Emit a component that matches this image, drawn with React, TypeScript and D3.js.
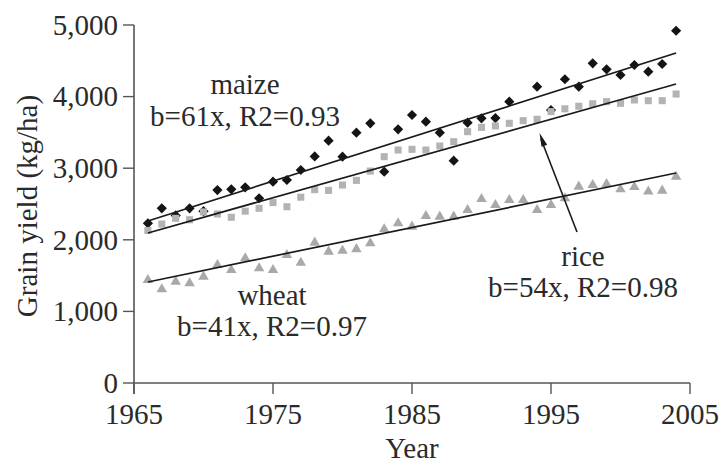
import React from "react";
import * as d3 from "d3";

const years = d3.range(1966, 2005);
const maize: (number | null)[] = [
  2230, 2440, 2340, 2440, 2400, 2695, 2705, 2733, 2580, 2812,
  2835, 2975, 3165, 3384, 3161, 3496, 3627, 2951, 3543, 3743,
  3650, 3496, 3105, 3636, 3697, 3700, 3929, null, 4138, 3813,
  4242, 4138, 4465, 4381, 4302, 4441, 4348, 4455, 4920,
];
const rice: number[] = [
  2130, 2220, 2300, 2280, 2390, 2360, 2314, 2400, 2440, 2520,
  2462, 2595, 2700, 2690, 2765, 2830, 2960, 3161, 3254, 3264,
  3254, 3310, 3370, 3510, 3570, 3590, 3627, 3664, 3683, 3790,
  3830, 3865, 3900, 3929, 3906, 3953, 3943, 3943, 4036,
];
const wheat: number[] = [
  1438, 1309, 1415, 1392, 1485, 1648, 1578, 1742, 1602, 1578,
  1788, 1680, 1960, 1834, 1846, 1870, 1951, 2147, 2230, 2183,
  2332, 2323, 2323, 2416, 2570, 2486, 2556, 2556, 2416, 2486,
  2580, 2742, 2765, 2779, 2705, 2738, 2675, 2687, 2880,
];
// fitted trend values at first and last year
const maizeTrend = [2263, 4609];
const riceTrend = [2095, 4176];
const wheatTrend = [1411, 2933];
const xTicks = [1965, 1975, 1985, 1995, 2005];
const yTicks = [0, 1000, 2000, 3000, 4000, 5000];

const W = 727;
const H = 465;
const FONT = "'Liberation Serif', 'DejaVu Serif', serif";
const TXT = "#2a2a2a";

export default function App() {
  const x = d3.scaleLinear().domain([1965, 2005]).range([134, 690]);
  const y = d3.scaleLinear().domain([0, 5000]).range([383, 25]);
  const fmt = d3.format(",");

  const square = (s: number) => d3.symbol().type(d3.symbolSquare).size(s)()!;
  const tri = d3.symbol().type(d3.symbolTriangle).size(48)()!;
  const diamondPath = square(52);
  const squarePath = square(50);

  const trends = [maizeTrend, riceTrend, wheatTrend];
  const y0 = years[0];
  const y1 = years[years.length - 1];
  const line = d3
    .line<[number, number]>()
    .x((d) => x(d[0]))
    .y((d) => y(d[1]));

  return (
    <svg
      width={W}
      height={H}
      style={{ position: "absolute", left: 0, top: 0, background: "#fff" }}
      fontFamily={FONT}
    >
      {/* axes */}
      <line x1={134} x2={134} y1={y(5000)} y2={394} stroke="#555" strokeWidth={1.6} />
      <line x1={134} x2={690} y1={383} y2={383} stroke="#555" strokeWidth={1.6} />
      {yTicks.map((t) => (
        <g key={t}>
          <line x1={123} x2={134} y1={y(t)} y2={y(t)} stroke="#555" strokeWidth={1.4} />
          <text x={118} y={y(t)} dy="0.34em" textAnchor="end" fontSize={29} fill={TXT}>
            {fmt(t)}
          </text>
        </g>
      ))}
      {xTicks.map((t) => (
        <g key={t}>
          <line x1={x(t)} x2={x(t)} y1={383} y2={394} stroke="#555" strokeWidth={1.4} />
          <text x={x(t)} y={424} textAnchor="middle" fontSize={29} fill={TXT}>
            {t}
          </text>
        </g>
      ))}
      <text x={x(1985)} y={458} textAnchor="middle" fontSize={29} fill={TXT}>
        Year
      </text>
      <text
        transform={`translate(37,${y(2500) + 2}) rotate(-90)`}
        textAnchor="middle"
        fontSize={29}
        fill={TXT}
      >
        Grain yield (kg/ha)
      </text>

      {/* points */}
      {maize.map((v, i) =>
        v == null ? null : (
          <path
            key={"m" + i}
            d={diamondPath}
            transform={`translate(${x(years[i])},${y(v)}) rotate(45)`}
            fill="#141414"
          />
        )
      )}
      {rice.map((v, i) => (
        <path
          key={"r" + i}
          d={squarePath}
          transform={`translate(${x(years[i])},${y(v)})`}
          fill="#b3b3b3"
        />
      ))}
      {wheat.map((v, i) => (
        <path
          key={"w" + i}
          d={tri}
          transform={`translate(${x(years[i])},${y(v)})`}
          fill="#a9a9a9"
        />
      ))}

      {/* regression lines */}
      {trends.map((t, i) => (
        <path
          key={"f" + i}
          d={line([
            [y0, t[0]],
            [y1, t[1]],
          ])!}
          stroke="#1a1a1a"
          strokeWidth={1.7}
          fill="none"
        />
      ))}

      {/* annotations */}
      <g fontSize={29} fill={TXT} textAnchor="middle">
        <text x={245} y={94}>maize</text>
        <text x={245} y={126}>b=61x, R2=0.93</text>
        <text x={272} y={305}>wheat</text>
        <text x={272} y={336}>b=41x, R2=0.97</text>
        <text x={583} y={266}>rice</text>
        <text x={583} y={297}>b=54x, R2=0.98</text>
      </g>
      {/* arrow */}
      <line x1={577} y1={232} x2={541} y2={139} stroke="#1a1a1a" strokeWidth={1.6} />
      <path
        d={(() => {
          const tip = [539.5, 133];
          const ang = Math.atan2(232 - 133, 577 - 539.5);
          const len = 14;
          const spread = 0.22;
          const a1 = [tip[0] + len * Math.cos(ang - spread), tip[1] + len * Math.sin(ang - spread)];
          const a2 = [tip[0] + len * Math.cos(ang + spread), tip[1] + len * Math.sin(ang + spread)];
          return `M${tip[0]},${tip[1]}L${a1[0]},${a1[1]}L${a2[0]},${a2[1]}Z`;
        })()}
        fill="#1a1a1a"
      />
    </svg>
  );
}
